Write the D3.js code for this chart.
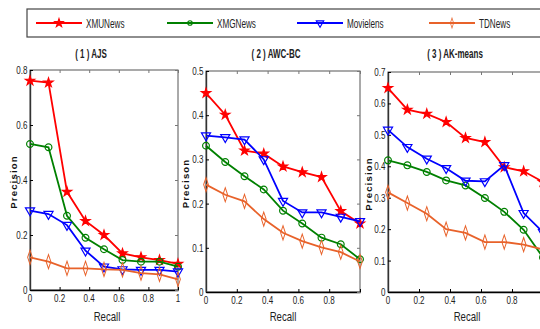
<!DOCTYPE html>
<html>
<head>
<meta charset="utf-8">
<script src="https://cdn.jsdelivr.net/npm/d3@7"></script>
<style>
  body { margin: 0; background: #fff; }
  svg { display: block; }
  text { font-family: "Liberation Sans", Arial, sans-serif; }
</style>
</head>
<body>
<svg id="chart" width="540" height="329"></svg>
<script>
// recall levels shared by all panels
const recall = [0, 0.125, 0.25, 0.375, 0.5, 0.625, 0.75, 0.875, 1];
const seriesNames = ["XMUNews", "XMGNews", "Movielens", "TDNews"];
const titles = ["( 1 ) AJS", "( 2 ) AWC-BC", "( 3 ) AK-means"];
const yLabels = ["Precision", "Precison", "Precision"];

// precision values per panel, same order as seriesNames
const ajs = [
  [0.761, 0.754, 0.357, 0.251, 0.200, 0.133, 0.119, 0.109, 0.095],
  [0.531, 0.519, 0.270, 0.190, 0.148, 0.109, 0.103, 0.103, 0.085],
  [0.289, 0.276, 0.236, 0.143, 0.085, 0.075, 0.073, 0.073, 0.067],
  [0.119, 0.103, 0.079, 0.079, 0.075, 0.073, 0.061, 0.057, 0.039]
];
const awcbc = [
  [0.450, 0.401, 0.320, 0.313, 0.284, 0.271, 0.260, 0.183, 0.155],
  [0.331, 0.294, 0.262, 0.232, 0.184, 0.155, 0.123, 0.108, 0.074],
  [0.354, 0.350, 0.345, 0.300, 0.206, 0.180, 0.180, 0.170, 0.160],
  [0.243, 0.220, 0.205, 0.165, 0.134, 0.115, 0.101, 0.090, 0.069]
];
const akmeans = [
  [0.649, 0.580, 0.567, 0.541, 0.490, 0.477, 0.397, 0.384, 0.350],
  [0.419, 0.403, 0.382, 0.355, 0.339, 0.299, 0.255, 0.198, 0.110],
  [0.516, 0.461, 0.424, 0.394, 0.354, 0.352, 0.403, 0.251, 0.190],
  [0.317, 0.283, 0.249, 0.200, 0.188, 0.159, 0.159, 0.151, 0.135]
];

const xTicks = [0, 0.2, 0.4, 0.6, 0.8, 1];
const yTicks = [
  [0, 0.2, 0.4, 0.6, 0.8],
  [0, 0.1, 0.2, 0.3, 0.4, 0.5],
  [0, 0.1, 0.2, 0.3, 0.4, 0.5, 0.6, 0.7]
];
const yMax = [0.8, 0.5, 0.7];

const colors = ["#ff0000", "#008000", "#0000ff", "#e8622a"];
const symbols = [d3.symbolStar, d3.symbolCircle, d3.symbolTriangle, d3.symbolDiamond];

const svg = d3.select("#chart");
const fmt = d3.format("~g");

// panel boxes (pixels)
const panels = [
  {x0: 30, x1: 178, y0: 70, y1: 290, data: ajs, lastX: true, yl: 13, tx: 91, rx: 107},
  {x0: 206, x1: 360, y0: 71, y1: 292, data: awcbc, lastX: false, yl: 17, tx: 276, rx: 283},
  {x0: 388, x1: 543, y0: 72, y1: 292, data: akmeans, lastX: false, yl: 16, tx: 455, rx: 467}
];

// condensed text: the original uses a narrow font, squeeze a normal one
function narrowText(sel, x, y, txt, size, sx, anchor, weight) {
  return sel.append("text")
    .attr("transform", `translate(${x},${y}) scale(${sx},1)`)
    .attr("text-anchor", anchor || "middle")
    .attr("dominant-baseline", "central")
    .attr("font-size", size).attr("font-weight", weight || "normal")
    .attr("fill", "#222").text(txt);
}

function markerTransform(i, px, py) {
  return `translate(${px},${py})${i === 2 ? " rotate(180)" : ""}${i === 3 ? " scale(0.75,1.3)" : ""}`;
}
const markerSize = [26, 36, 36, 34];

panels.forEach((p, pi) => {
  const x = d3.scaleLinear().domain([0, 1]).range([p.x0, p.x1]);
  const y = d3.scaleLinear().domain([0, yMax[pi]]).range([p.y1, p.y0]);
  const g = svg.append("g");

  // box with inward ticks on all sides
  g.append("rect").attr("x", p.x0).attr("y", p.y0)
    .attr("width", p.x1 - p.x0).attr("height", p.y1 - p.y0)
    .attr("fill", "none").attr("stroke", "#555").attr("stroke-width", 1);

  g.append("g").attr("transform", `translate(0,${p.y1})`)
    .call(d3.axisBottom(x).tickValues(xTicks).tickSizeInner(-3).tickSizeOuter(0).tickFormat(""))
    .call(a => a.select(".domain").attr("stroke", "#000").attr("stroke-width", 1.6));
  g.append("g").attr("transform", `translate(0,${p.y0})`)
    .call(d3.axisBottom(x).tickValues(xTicks).tickSizeInner(3).tickSizeOuter(0).tickFormat(""))
    .call(a => a.select(".domain").remove())
    .call(a => a.selectAll("line").attr("stroke", "#777"));
  g.append("g").attr("transform", `translate(${p.x0},0)`)
    .call(d3.axisLeft(y).tickValues(yTicks[pi]).tickSizeInner(-3).tickSizeOuter(0).tickFormat(""))
    .call(a => a.select(".domain").attr("stroke", "#333").attr("stroke-width", 1.4));
  g.append("g").attr("transform", `translate(${p.x1},0)`)
    .call(d3.axisRight(y).tickValues(yTicks[pi]).tickSizeInner(-3).tickSizeOuter(0).tickFormat(""))
    .call(a => a.select(".domain").remove())
    .call(a => a.selectAll("line").attr("stroke", "#777"));

  // tick labels
  xTicks.filter(t => t < 1 || p.lastX).forEach(t =>
    narrowText(g, x(t), p.y1 + 8, fmt(t), 11.5, 0.7));
  yTicks[pi].forEach(t =>
    narrowText(g, p.x0 - 2.5, y(t), fmt(t), 11.5, 0.7, "end"));

  // title and axis labels
  narrowText(svg, p.tx, 54, titles[pi], 12.5, 0.64, "middle", "bold");
  narrowText(svg, p.rx, 317, "Recall", 12, 0.8);
  svg.append("text")
    .attr("transform", `translate(${p.x0 - p.yl},${(p.y0 + p.y1) / 2 + 2}) rotate(-90)`)
    .attr("text-anchor", "middle")
    .attr("font-size", 9.5).attr("font-weight", "bold").attr("letter-spacing", 1.2)
    .attr("fill", "#111").text(yLabels[pi]);

  const line = d3.line().x((d, i) => x(recall[i])).y(d => y(d));
  p.data.forEach((vals, si) => {
    g.append("path").datum(vals)
      .attr("fill", "none").attr("stroke", colors[si]).attr("stroke-width", 1.8)
      .attr("d", line);
    g.selectAll(null).data(vals).enter().append("path")
      .attr("transform", (d, i) => markerTransform(si, x(recall[i]), y(d)))
      .attr("d", d3.symbol().type(symbols[si]).size(markerSize[si])())
      .attr("fill", si === 0 ? colors[si] : "none")
      .attr("stroke", colors[si]).attr("stroke-width", 1.2);
  });
});

// legend
const lg = svg.append("g");
lg.append("rect").attr("x", 27).attr("y", 9).attr("width", 530).attr("height", 28)
  .attr("fill", "#fff").attr("stroke", "#444").attr("stroke-width", 1.2);
const legX = [36, 167, 297, 429];
seriesNames.forEach((name, i) => {
  const x0 = legX[i];
  lg.append("line").attr("x1", x0).attr("x2", x0 + 46).attr("y1", 23).attr("y2", 23)
    .attr("stroke", colors[i]).attr("stroke-width", 1.8);
  lg.append("path")
    .attr("transform", `translate(${x0 + 23},23)${i === 2 ? " rotate(180)" : ""}${i === 3 ? " scale(0.6,1.1)" : ""}`)
    .attr("d", d3.symbol().type(symbols[i]).size([22, 16, 24, 24][i])())
    .attr("fill", i === 0 ? colors[i] : "none").attr("stroke", colors[i]).attr("stroke-width", 1.1);
  narrowText(lg, x0 + 50, 24, name, 12, 0.68, "start");
});
</script>
</body>
</html>
